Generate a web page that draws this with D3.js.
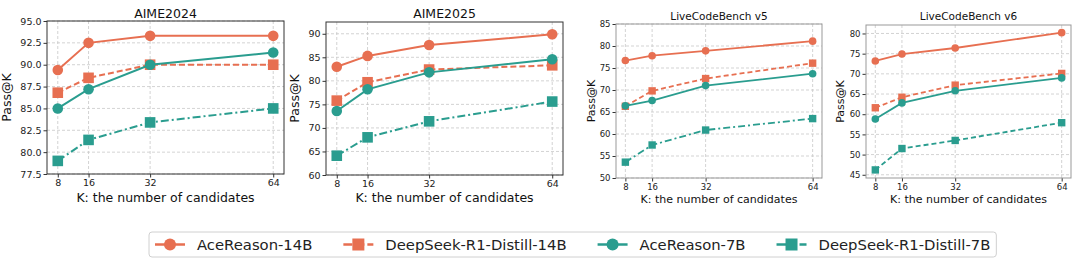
<!DOCTYPE html>
<html>
<head>
<meta charset="utf-8">
<script src="https://cdn.jsdelivr.net/npm/d3@7"></script>
<style>
  body { margin: 0; background: #fff; }
  svg { font-family: "DejaVu Sans", sans-serif; }
</style>
</head>
<body>
<svg id="chart" width="1080" height="265"></svg>
<script>
// K values on the x axis
var k_values = [8, 16, 32, 64];

var series_names = ['AceReason-14B', 'DeepSeek-R1-Distill-14B', 'AceReason-7B', 'DeepSeek-R1-Distill-7B'];

// Pass@K per panel, one row per series (same order as series_names)
var aime2024 = [
  [89.4, 92.5, 93.3, 93.3],
  [86.8, 88.5, 90.0, 90.0],
  [85.0, 87.2, 90.0, 91.4],
  [79.0, 81.4, 83.4, 85.0]
];
var aime2025 = [
  [83.0, 85.3, 87.6, 89.9],
  [75.8, 79.7, 82.4, 83.3],
  [73.6, 78.2, 81.8, 84.6],
  [64.1, 68.0, 71.4, 75.6]
];
var lcb_v5 = [
  [76.7, 77.8, 78.9, 81.1],
  [66.3, 69.8, 72.6, 76.1],
  [66.4, 67.6, 71.0, 73.7],
  [53.6, 57.5, 60.9, 63.5]
];
var lcb_v6 = [
  [73.2, 74.9, 76.4, 80.2],
  [61.6, 64.2, 67.2, 70.1],
  [58.8, 62.8, 65.8, 69.0],
  [46.2, 51.5, 53.5, 57.9]
];

var titles = ['AIME2024', 'AIME2025', 'LiveCodeBench v5', 'LiveCodeBench v6'];
var y_ticks_2024 = [77.5, 80.0, 82.5, 85.0, 87.5, 90.0, 92.5, 95.0];
var y_ticks_2025 = [60, 65, 70, 75, 80, 85, 90];
var y_ticks_v5 = [50, 55, 60, 65, 70, 75, 80, 85];
var y_ticks_v6 = [45, 50, 55, 60, 65, 70, 75, 80];

var orange = '#e76f51'
var teal = '#2a9d8f'
var colors = [orange, orange, teal, teal]
var markers = ['circle', 'square', 'circle', 'square']

var svg = d3.select('#chart')

// layout of each panel (pixel box, y limits, sizes)
var panels = [
  {data: aime2024, ticks: y_ticks_2024, fmt: '.1f', left: 47, right: 284, top: 21, bottom: 174, ylim: [77.5, 95], big: true,
   ylab_off: 36, dash: ['none', '6,3', 'none', '8,3,2,3']},
  {data: aime2025, ticks: y_ticks_2025, fmt: 'd', left: 326, right: 563, top: 22, bottom: 175, ylim: [60, 92.5], big: true,
   ylab_off: 27, dash: ['none', '6,3', 'none', '8,3,2,3']},
  {data: lcb_v5, ticks: y_ticks_v5, fmt: 'd', left: 616, right: 822, top: 24, bottom: 178, ylim: [50, 85], big: false,
   ylab_off: 21, dash: ['none', '5,3', 'none', '7,3,2,3']},
  {data: lcb_v6, ticks: y_ticks_v6, fmt: 'd', left: 866, right: 1071, top: 25, bottom: 178, ylim: [44.2, 82.1], big: false,
   ylab_off: 22, dash: ['none', '5,3', 'none', '5,3']}
]

function draw_panel(p, i) {
  var x = d3.scaleLinear().domain([8 - 2.8, 64 + 2.8]).range([p.left, p.right])
  var y = d3.scaleLinear().domain(p.ylim).range([p.bottom, p.top])
  var g = svg.append('g')
  var tick_size = p.big ? 9.5 : 8.5
  var label_size = p.big ? 12.5 : 11
  var frame_color = p.big ? '#333' : '#999'

  // grid
  g.append('g').selectAll('line')
    .data(k_values).enter().append('line')
    .attr('x1', function(d) { return x(d) }).attr('x2', function(d) { return x(d) })
    .attr('y1', p.top).attr('y2', p.bottom)
    .attr('stroke', '#c8c8c8').attr('stroke-width', 0.8).attr('stroke-dasharray', '3,2')
  g.append('g').selectAll('line')
    .data(p.ticks).enter().append('line')
    .attr('x1', p.left).attr('x2', p.right)
    .attr('y1', function(d) { return y(d) }).attr('y2', function(d) { return y(d) })
    .attr('stroke', '#c8c8c8').attr('stroke-width', 0.8).attr('stroke-dasharray', '3,2')

  // axes
  var xAxis = g.append('g')
    .attr('transform', 'translate(0,' + p.bottom + ')')
    .call(d3.axisBottom(x).tickValues(k_values).tickSize(3.5).tickPadding(2))
  var yAxis = g.append('g')
    .attr('transform', 'translate(' + p.left + ',0)')
    .call(d3.axisLeft(y).tickValues(p.ticks).tickFormat(d3.format(p.fmt)).tickSize(3.5).tickPadding(2))
  ;[xAxis, yAxis].forEach(function(a) {
    a.select('.domain').remove()
    a.selectAll('line').attr('stroke', '#333')
    a.selectAll('text').attr('fill', '#222').style('font-size', tick_size + 'px').style('font-family', 'DejaVu Sans')
  })

  // frame
  g.append('rect')
    .attr('x', p.left).attr('y', p.top)
    .attr('width', p.right - p.left).attr('height', p.bottom - p.top)
    .attr('fill', 'none').attr('stroke', frame_color).attr('stroke-width', 1)

  // lines and markers
  p.data.forEach(function(vals, s) {
    var pts = k_values.map(function(k, j) { return [k, vals[j]] })
    g.append('path')
      .datum(pts)
      .attr('d', d3.line().x(function(d) { return x(d[0]) }).y(function(d) { return y(d[1]) }))
      .attr('fill', 'none')
      .attr('stroke', colors[s])
      .attr('stroke-width', p.big ? 2 : 1.8)
      .attr('stroke-dasharray', p.dash[s])
    var r = p.big ? 5.3 : 3.8
    if (markers[s] === 'circle') {
      g.selectAll(null).data(pts).enter().append('circle')
        .attr('cx', function(d) { return x(d[0]) })
        .attr('cy', function(d) { return y(d[1]) })
        .attr('r', r)
        .attr('fill', colors[s])
    } else {
      var h = p.big ? 5.3 : 3.7
      g.selectAll(null).data(pts).enter().append('rect')
        .attr('x', function(d) { return x(d[0]) - h })
        .attr('y', function(d) { return y(d[1]) - h })
        .attr('width', h * 2).attr('height', h * 2)
        .attr('fill', colors[s])
    }
  })

  // title and labels
  g.append('text')
    .attr('x', (p.left + p.right) / 2).attr('y', p.big ? 17.5 : 20)
    .attr('text-anchor', 'middle')
    .attr('fill', '#111')
    .style('font-weight', 'normal')
    .style('font-size', (p.big ? 12.5 : 10.5) + 'px')
    .text(titles[i])
  g.append('text')
    .attr('x', (p.left + p.right) / 2).attr('y', p.big ? 201.5 : 202.5)
    .attr('text-anchor', 'middle')
    .attr('fill', '#111')
    .style('font-size', label_size + 'px')
    .text('K: the number of candidates')
  g.append('text')
    .attr('transform', 'translate(' + (p.left - p.ylab_off) + ',' + (p.top + p.bottom) / 2 + ') rotate(-90)')
    .attr('text-anchor', 'middle')
    .attr('fill', '#111')
    .style('font-size', label_size + 'px')
    .text('Pass@K')
}

panels.forEach(draw_panel)

// legend (matplotlib-like spacing: handle, pad, column spacing)
var leg_font = 14.8
var handle_len = 30
var handle_pad = 12
var col_space = 31
var legend = svg.append('g')
var leg_box = legend.append('rect')
  .attr('y', 232).attr('height', 25).attr('rx', 3)
  .attr('fill', '#fff').attr('stroke', '#d0d0d0').attr('stroke-width', 1)
var lx = 155
series_names.forEach(function(name, s) {
  var item = legend.append('g')
  item.append('line')
    .attr('x1', lx).attr('x2', lx + handle_len).attr('y1', 244.5).attr('y2', 244.5)
    .attr('stroke', colors[s]).attr('stroke-width', 2.5)
    .attr('stroke-dasharray', s === 1 ? '9,3' : (s === 3 ? '12,4,3,4' : 'none'))
  var cx = lx + handle_len / 2
  if (markers[s] === 'circle') {
    item.append('circle').attr('cx', cx).attr('cy', 244.5).attr('r', 6).attr('fill', colors[s])
  } else {
    item.append('rect').attr('x', cx - 6).attr('y', 238.5).attr('width', 12).attr('height', 12).attr('fill', colors[s])
  }
  var t = item.append('text')
    .attr('x', lx + handle_len + handle_pad).attr('y', 249.5)
    .style('font-size', leg_font + 'px')
    .attr('fill', '#222')
    .text(name)
  lx = lx + handle_len + handle_pad + t.node().getComputedTextLength() + col_space
})
leg_box.attr('x', 149).attr('width', lx - col_space + 6 - 149)
</script>
</body>
</html>
